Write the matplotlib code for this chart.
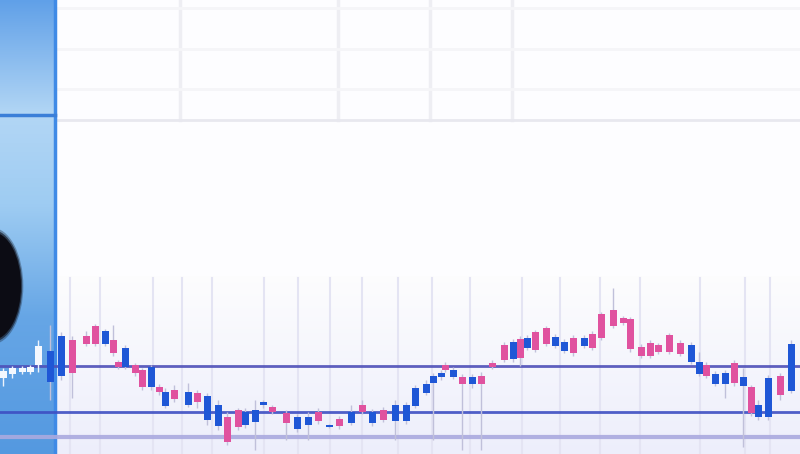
import numpy as np
import matplotlib
matplotlib.use("Agg")
import matplotlib.pyplot as plt
from matplotlib.patches import Ellipse

# candle data (time, open, close, high, low)
t = [3, 12, 22, 30, 38, 50, 61, 72, 86, 95, 105, 113, 118, 125, 135, 142, 151, 159, 165, 174,
     188, 197, 207, 218, 227, 238, 245, 255, 263, 272, 286, 297, 308, 318, 329, 339, 351, 362, 372, 383,
     395, 406, 415, 426, 433, 441, 445, 453, 462, 472, 481, 492, 504, 513, 520, 527, 535, 546, 555, 564,
     573, 584, 592, 601, 613, 623, 630, 641, 650, 658, 669, 680, 691, 699, 706, 715, 725, 734, 743, 751,
     758, 768, 780, 791]
opens = [76, 80, 82, 82, 89, 103, 118, 81, 110, 110, 123, 101, 87, 106, 81, 67, 87, 62, 62, 55,
         62, 52, 58, 49, 12, 27, 42, 44, 52, 42, 31, 37, 37, 33, 29, 28, 42, 42, 42, 34,
         49, 49, 66, 70, 78, 81, 84, 84, 70, 77, 70, 87, 94, 112, 96, 116, 104, 110, 117, 112,
         101, 116, 106, 116, 128, 131, 105, 98, 98, 102, 102, 100, 109, 92, 78, 80, 81, 71, 77, 41,
         49, 76, 59, 110]
closes = [83, 86, 86, 87, 108, 72, 78, 114, 118, 128, 110, 114, 92, 87, 89, 84, 67, 67, 48, 64,
          49, 61, 34, 28, 37, 44, 29, 32, 49, 47, 41, 25, 29, 42, 27, 35, 31, 49, 31, 44,
          33, 33, 48, 61, 71, 77, 89, 77, 77, 70, 78, 91, 109, 95, 115, 106, 122, 126, 108, 103,
          116, 108, 120, 140, 144, 136, 135, 107, 111, 109, 119, 111, 92, 80, 89, 70, 70, 91, 68, 67,
          37, 37, 78, 63]
highs = [86, 88, 88, 89, 114, 129, 122, 118, 123, 130, 125, 129, 94, 109, 91, 86, 89, 70, 66, 69,
         71, 64, 61, 54, 42, 46, 46, 54, 54, 49, 44, 40, 42, 46, 30, 38, 49, 54, 45, 47,
         54, 52, 69, 74, 81, 84, 92, 87, 80, 80, 82, 94, 112, 115, 118, 119, 124, 128, 120, 115,
         119, 119, 123, 142, 166, 138, 137, 110, 114, 111, 121, 114, 112, 102, 92, 83, 84, 94, 86, 69,
         54, 79, 81, 114]
lows = [68, 76, 80, 80, 82, 54, 74, 56, 108, 108, 108, 98, 85, 85, 78, 64, 64, 59, 46, 52,
        47, 46, 29, 24, 9, 24, 26, 4, 46, 40, 14, 22, 14, 30, 26, 25, 29, 40, 28, 32,
        14, 30, 46, 59, 14, 74, 82, 75, 4, 66, 4, 85, 92, 92, 88, 104, 102, 108, 106, 101,
        98, 106, 104, 114, 126, 129, 102, 96, 96, 100, 100, 98, 90, 78, 76, 68, 56, 68, 7, 38,
        34, 34, 54, 61]

# reference levels drawn across the chart
levels = [88, 42, 17]
level_colors = ["#4e4fb8", "#3d4ec2", "#aaaadf"]
level_widths = [2.0, 2.0, 3.0]

fig = plt.figure(figsize=(8, 4.54), dpi=100)
ax = fig.add_axes([0, 0, 1, 1])
ax.set_xlim(0, 800)
ax.set_ylim(0, 454)
ax.axis("off")
fig.patch.set_facecolor("#fdfdff")

# screen background: white top, slightly lavender lower band
grad = np.linspace(0, 1, 60).reshape(-1, 1)
band = np.ones((60, 1, 3))
band[:, 0, 0] = 0.93 + 0.06 * grad[:, 0]
band[:, 0, 1] = 0.935 + 0.055 * grad[:, 0]
band[:, 0, 2] = 0.985 + 0.01 * grad[:, 0]
ax.imshow(band, extent=(55, 800, 0, 178), aspect="auto", origin="lower", zorder=0)

# faint grid in the upper area
for gx in [180, 338, 430, 512]:
    ax.plot([gx, gx], [334, 454], color="#eeeef3", lw=2.5, zorder=1)
for gy in [446, 405, 365]:
    ax.plot([55, 800], [gy, gy], color="#f5f5f8", lw=2, zorder=1)
ax.plot([55, 800], [334, 334], color="#e8e8ef", lw=2, zorder=1)

# faint vertical grid in the lower band
for gx in [70, 100, 153, 182, 212, 264, 298, 330, 362, 398, 432, 470, 522, 560, 600, 640, 700, 745, 770]:
    ax.plot([gx, gx], [0, 176], color="#e4e4f3", lw=1.5, zorder=1)

# blue side panel with vertical gradient
pg = np.linspace(0, 1, 200)
panel = np.zeros((200, 1, 3))
r = np.interp(pg, [0, 0.3, 0.55, 0.75, 1], [0.33, 0.40, 0.62, 0.70, 0.38])
g = np.interp(pg, [0, 0.3, 0.55, 0.75, 1], [0.60, 0.65, 0.80, 0.84, 0.63])
b = np.interp(pg, [0, 0.3, 0.55, 0.75, 1], [0.88, 0.90, 0.95, 0.96, 0.91])
panel[:, 0, 0], panel[:, 0, 1], panel[:, 0, 2] = r, g, b
ax.imshow(panel, extent=(0, 55, 0, 454), aspect="auto", origin="lower", zorder=2)
ax.plot([55, 55], [0, 454], color="#3f8ae6", lw=2.5, zorder=3)
ax.plot([0, 55], [339, 339], color="#3b7fd8", lw=2.5, zorder=3)

# dark round object at left edge (soft edge)
for k, a in zip([1.08, 1.04, 1.0], [0.3, 0.6, 1.0]):
    ax.add_patch(Ellipse((-8, 168), 58 * k, 108 * k, color="#0c0c14", alpha=a, zorder=4, lw=0))

# horizontal levels
for lv, lc, lw in zip(levels, level_colors, level_widths):
    ax.plot([0, 800], [lv, lv], color=lc, lw=lw, zorder=3, alpha=0.9)

# candles
t_arr = np.array(t)
o = np.array(opens)
c = np.array(closes)
h = np.array(highs)
lo = np.array(lows)
up = c >= o
col = np.where(up, "#e0529f", "#1f57d6")
col = np.where(t_arr < 45, "#f4f8fe", col)
wick_col = np.where(t_arr < 45, "#eef4fc", "#c0c0da")

ax.vlines(t_arr, lo, h, colors=wick_col, lw=1.0, zorder=5)
body_bottom = np.minimum(o, c)
body_height = np.maximum(np.abs(c - o), 2)
ax.bar(t_arr, body_height, bottom=body_bottom, width=7, color=col, zorder=6, lw=0)

fig.savefig("out.png", dpi=100)
